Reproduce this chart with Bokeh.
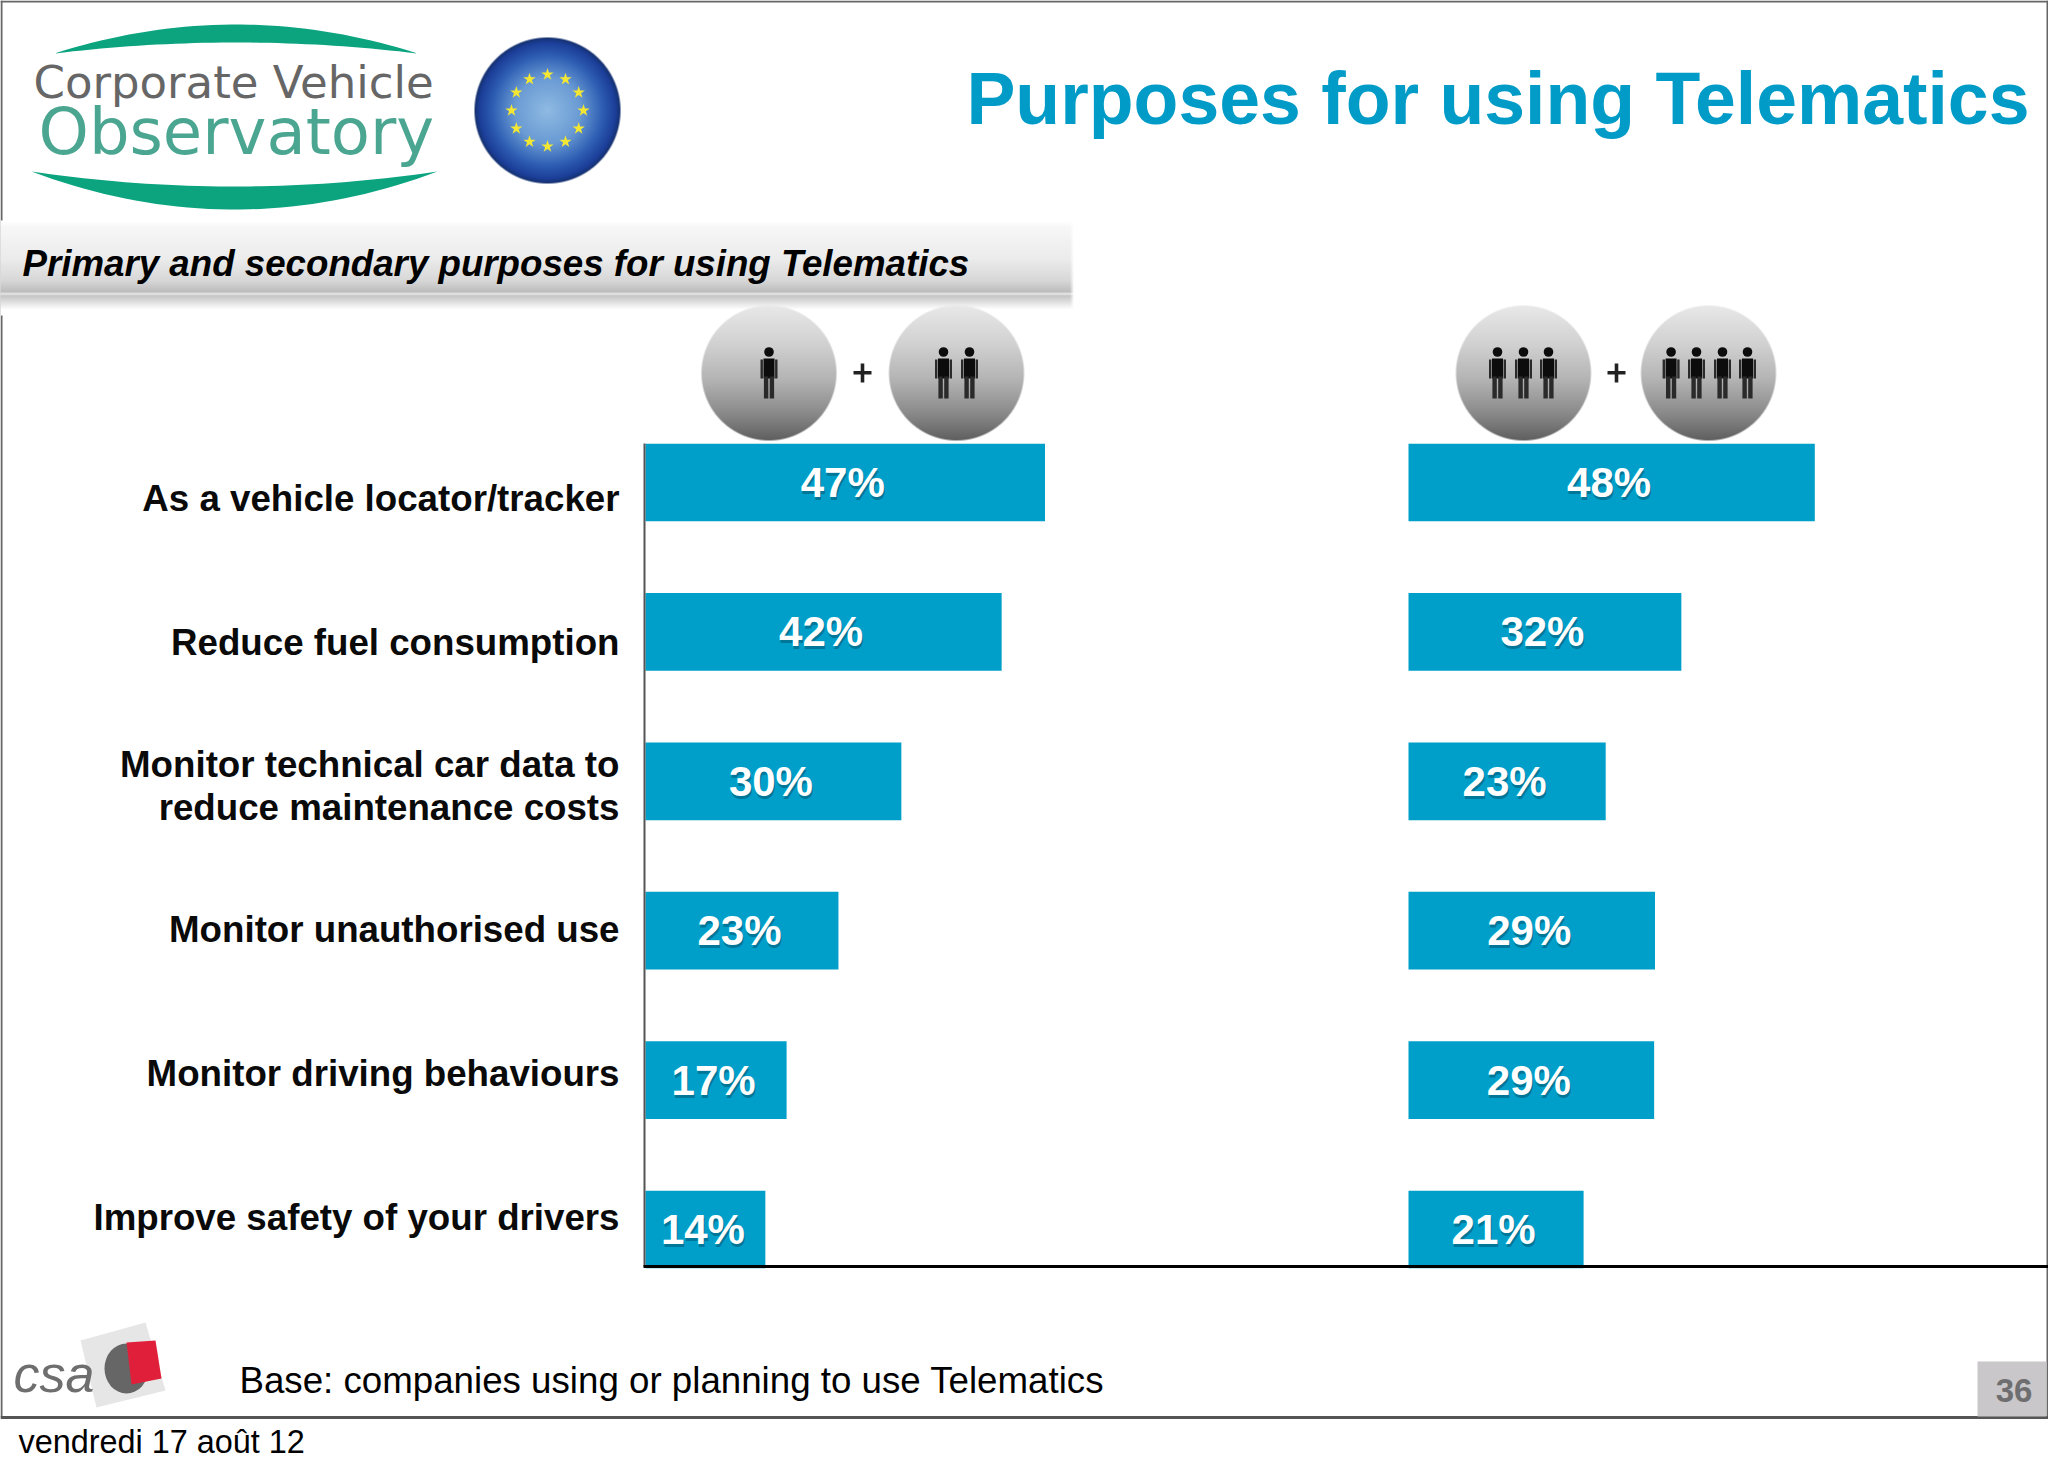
import numpy as np
from bokeh.plotting import figure
from bokeh.core.properties import value
from bokeh.models import Range1d, ColumnDataSource
from bokeh.embed import file_html
from bokeh.resources import INLINE

# ---------- data ----------
categories = ["As a vehicle locator/tracker", "Reduce fuel consumption",
              "Monitor technical car data to\nreduce maintenance costs",
              "Monitor unauthorised use", "Monitor driving behaviours",
              "Improve safety of your drivers"]
small_bars = [47.0, 41.9, 30.1, 22.7, 16.6, 14.1]
large_bars = [47.8, 32.1, 23.2, 29.0, 28.9, 20.6]
small_labels = ["47%", "42%", "30%", "23%", "17%", "14%"]
large_labels = ["48%", "32%", "23%", "29%", "29%", "21%"]
title = "Purposes for using Telematics"
subtitle = "Primary and secondary purposes for using Telematics"
base_note = "Base: companies using or planning to use Telematics"
date_note = "vendredi 17 août 12"
page_no = "36"

W, H = 2048, 1470
BLUE = "#009fc9"
SANS = value("Liberation Sans")
LIGHT = value("DejaVu Sans")
UNIT = 8.5
def Y(px):
    return H - np.asarray(px, dtype=float)

p = figure(width=W, height=H, output_backend="svg", toolbar_location=None,
           x_range=Range1d(0, W), y_range=Range1d(0, H), min_border=0)
p.styles = {"position": "absolute", "left": "0px", "top": "0px"}
p.axis.visible = False
p.grid.visible = False
p.outline_line_color = None
p.background_fill_color = "white"
p.border_fill_color = "white"

p.extra_x_ranges = {
    "small": Range1d(-645 / UNIT, (W - 645) / UNIT),
    "large": Range1d(-1408 / UNIT, (W - 1408) / UNIT),
}
p.extra_y_ranges = {
    "row": Range1d((H - 482) / 149.4, -482 / 149.4),
    "cat": Range1d((H - 498) / 143.8, -498 / 143.8),
}

def hex2rgb(c):
    return [int(c[i:i + 2], 16) for i in (1, 3, 5)]

def ramp(t, stops):
    xs = [s[0] for s in stops]
    return [np.interp(t, xs, [hex2rgb(s[1])[k] for s in stops]) for k in range(3)]

def put_image(x0, y0, rgb, alpha):
    h, w = alpha.shape
    img = np.zeros((h, w), dtype=np.uint32)
    view = img.view(dtype=np.uint8).reshape((h, w, 4))
    view[..., 0] = rgb[0]
    view[..., 1] = rgb[1]
    view[..., 2] = rgb[2]
    view[..., 3] = np.clip(alpha * 255, 0, 255)
    # row 0 of the array is the bottom of the picture
    p.image_rgba(image=[img[::-1]], x=x0, y=Y(y0 + h).item(), dw=w, dh=h)

def disc(cx, cy, r, stops, mode):
    size = int(2 * r + 4)
    x0, y0 = int(cx - size / 2), int(cy - size / 2)
    yy, xx = np.mgrid[0:size, 0:size]
    dx = xx + x0 + .5 - cx
    dy = yy + y0 + .5 - cy
    d = np.hypot(dx, dy) / r
    t = d if mode == "radial" else (dy + r) / (2 * r)
    rgb = ramp(t, stops)
    alpha = np.clip((1 - d) * r + .5, 0, 1)
    put_image(x0, y0, rgb, alpha)

def label(x, y, txt, size, color, font=SANS, style="normal", align="left"):
    # y is the visual baseline; the renderer sets alphabetic text about a third of an em lower
    p.text([x], Y([y - 0.325 * size]), text=[txt], text_font=font, text_font_style=style,
           text_font_size=f"{size}px", text_color=color, text_align=align, text_baseline="alphabetic")

# ---------- frame ----------
p.line([1, 1], Y([0, 1417]), line_color="#666666", line_width=2)
p.line([0, W], Y([1, 1]), line_color="#666666", line_width=2)
p.line([W - 1, W - 1], Y([0, 1417]), line_color="#666666", line_width=2)

# ---------- logo ----------
tx = np.linspace(-1, 1, 40)
GREEN = "#0ba47f"
def arc(x0, x1, y_end, y_out, y_in):
    cx, hw = (x0 + x1) / 2, (x1 - x0) / 2
    xs = np.r_[cx + hw * tx, cx + hw * tx[::-1]]
    ys = np.r_[y_out + (y_end - y_out) * tx ** 2, y_in + (y_end - y_in) * tx[::-1] ** 2]
    p.patch(xs, Y(ys), fill_color=GREEN, line_color=None)
arc(54, 417, 53, 24, 42)
arc(31, 437, 171, 209, 186)
label(33, 97, "Corporate Vehicle", 45, "#666666", font=LIGHT)
label(38, 152, "Observatory", 64, "#4aa690", font=LIGHT)

# EU disc
disc(547, 110, 73, [(0, "#8fbbe3"), (.45, "#6a9bd4"), (.75, "#2f5fb4"), (.93, "#1c3f9a"), (1, "#15306c")], "radial")
star_angles = np.arange(12) * np.pi / 6
p.scatter(547 + 36 * np.sin(star_angles), Y(110 - 36 * np.cos(star_angles)), marker="star", size=13,
          fill_color="#f3e733", line_color=None)

# ---------- heading ----------
label(W - 19, 122, title, 73.4, "#009bc6", style="bold", align="right")

# banner
band_h, band_w = 95, 1074
band_stops = [(0, "#ffffff"), (.07, "#f7f7f7"), (.4, "#ececec"), (.62, "#d9d9d9"), (.75, "#bcbcbc"),
              (.765, "#f2f2f2"), (.785, "#c4c4c4"), (.93, "#ffffff"), (1, "#ffffff")]
rgb = ramp(np.tile(np.arange(band_h)[:, None] / band_h, (1, band_w)), band_stops)
alpha = np.ones((band_h, band_w))
alpha[:, -5:] = np.linspace(1, 0, 5)
put_image(0, 220, rgb, alpha)
label(22, 275, subtitle, 36.7, "black", style="bold italic")

# ---------- people badges ----------
GREY = [(0, "#e9e9e9"), (.3, "#d0d0d0"), (.55, "#b4b4b4"), (.8, "#8a8a8a"), (1, "#5f5f5f")]
for cx in (768.5, 956, 1523, 1708):
    disc(cx, 372.5, 67.5, GREY, "vertical")

def people(centres):
    c = np.asarray(centres, dtype=float)
    n = c.shape
    p.circle(c, Y(np.full(n, 351.5)), radius=4.8, fill_color="#0c0c0c", line_color=None)
    p.quad(left=c - 5.5, right=c + 5.5, top=Y(np.full(n, 358)), bottom=Y(np.full(n, 378)),
           fill_color="#0c0c0c", line_color=None)
    for sgn in (-1, 1):
        p.quad(left=c + sgn * 7.3 - 1.2, right=c + sgn * 7.3 + 1.2, top=Y(np.full(n, 359)),
               bottom=Y(np.full(n, 378)), fill_color="#2a2a2a", line_color=None)
        p.quad(left=c + sgn * 2.9 - 2.2, right=c + sgn * 2.9 + 2.2, top=Y(np.full(n, 376)),
               bottom=Y(np.full(n, 398)), fill_color="#2a2a2a", line_color=None)
people([768.5])
people([943, 969])
people([1497, 1523, 1548])
people([1670.6, 1696, 1722, 1747])
for cx in (862, 1616):
    p.quad(left=cx - 9, right=cx + 9, top=Y(370.5), bottom=Y(374), fill_color="#222222", line_color=None)
    p.quad(left=cx - 1.8, right=cx + 1.8, top=Y(363), bottom=Y(382), fill_color="#222222", line_color=None)

# ---------- bars ----------
rows = list(range(len(categories)))
for name, vals, labs in (("small", small_bars, small_labels), ("large", large_bars, large_labels)):
    src = ColumnDataSource(dict(row=rows, val=vals, mid=[v / 2 for v in vals], lab=labs))
    p.hbar(y="row", left=0, right="val", height=0.52, source=src, fill_color=BLUE, line_color=None,
           x_range_name=name, y_range_name="row")
    p.text(x="mid", y="row", text="lab", source=src, x_range_name=name, y_range_name="row",
           x_offset=-1.5, y_offset=3, text_font=SANS, text_font_style="bold", text_font_size="42px",
           text_color="#00546e", text_alpha=0.55, text_align="center", text_baseline="middle")
    p.text(x="mid", y="row", text="lab", source=src, x_range_name=name, y_range_name="row",
           x_offset=-2.5, text_font=SANS, text_font_style="bold", text_font_size="42px",
           text_color="white", text_align="center", text_baseline="middle")

# axes
p.line([644, 644], Y([443, 1266]), line_color="#555555", line_width=2)
p.line([643, W], Y([1266, 1266]), line_color="black", line_width=3)

p.text(x=[619] * len(categories), y=rows, text=categories, y_range_name="cat",
       text_font=SANS, text_font_style="bold", text_font_size="36.7px", text_color="#0a0a0a",
       text_align="right", text_baseline="middle", text_line_height=1.06)

# ---------- footer ----------
p.patch([145, 80, 96, 165], Y([1322, 1340, 1407, 1390]), fill_color="#e6e6e6", line_color=None)
p.ellipse([126], Y([1368]), width=44, height=50, fill_color="#666666", line_color=None)
p.patch([126, 155, 161, 131], Y([1342, 1340, 1378, 1384]), fill_color="#e0203a", line_color=None)
label(13, 1390, "csa", 52, "#6e6e6e", style="italic")
label(239, 1392, base_note, 36.7, "black")
p.line([0, W], Y([1417, 1417]), line_color="#555555", line_width=3)
p.quad(left=1977, right=W - 2, top=Y(1361), bottom=Y(1416), fill_color="#c9c7c9", line_color=None)
label(2013.5, 1401, page_no, 33, "#6e6e70", style="bold", align="center")
label(18, 1452, date_note, 32.4, "black")

open("out.html", "w").write(file_html(p, INLINE))
